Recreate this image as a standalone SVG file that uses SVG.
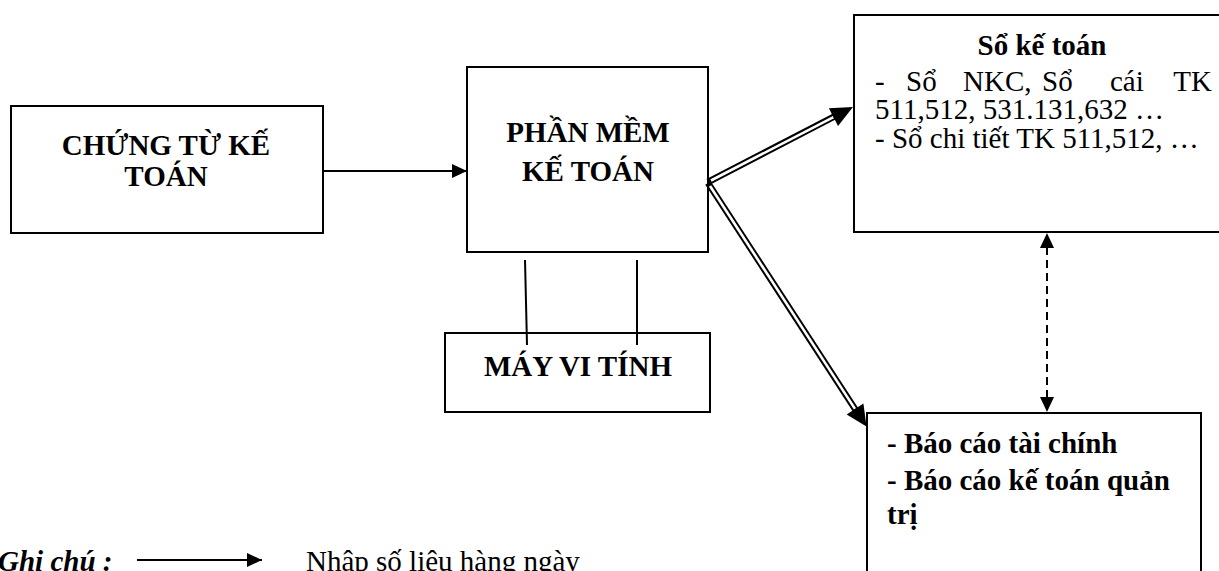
<svg xmlns="http://www.w3.org/2000/svg" width="1219" height="571" viewBox="0 0 1219 571">
<style>
.box{fill:#fff;stroke:#000;stroke-width:2}
.t{font-family:"Liberation Serif","Times New Roman",serif;font-size:29px;fill:#000}
.b{font-weight:bold}
.c{text-anchor:middle}
.ln{stroke:#000;stroke-width:2;fill:none}
.dbl{stroke:#000;stroke-width:6.5;fill:none}
.dblw{stroke:#fff;stroke-width:2.6;fill:none}
.dash{stroke:#000;stroke-width:2;stroke-dasharray:8 5;fill:none}
</style>
<defs>
<marker id="ah" markerUnits="userSpaceOnUse" markerWidth="16" markerHeight="14" refX="15" refY="7" orient="auto">
<path d="M0,0 L15,7 L0,14 Z" fill="#000"/>
</marker>
</defs>
<g id="node-chungtu">
<rect class="box" x="11" y="106" width="312" height="127"/>
<text class="t b c" x="166" y="155">CHỨNG TỪ KẾ</text>
<text class="t b c" x="166" y="186">TOÁN</text>
</g>
<g id="node-phanmem">
<rect class="box" x="467" y="67" width="241" height="185"/>
<text class="t b c" x="588" y="142">PHẦN MỀM</text>
<text class="t b c" x="588" y="181">KẾ TOÁN</text>
</g>
<g id="node-mayvitinh">
<rect class="box" x="445" y="333" width="265" height="79"/>
<text class="t b c" x="578" y="376">MÁY VI TÍNH</text>
</g>
<g id="node-soketoan">
<rect class="box" x="854" y="15" width="370" height="217"/>
<text class="t b c" x="1042" y="55">Sổ kế toán</text>
<text class="t" x="875" y="91">-</text>
<text class="t" x="906" y="91">Sổ</text>
<text class="t" x="963" y="91">NKC,</text>
<text class="t" x="1042" y="91">Sổ</text>
<text class="t" x="1110" y="91">cái</text>
<text class="t" x="1212" y="91" text-anchor="end">TK</text>
<text class="t" x="875" y="119">511,512, 531.131,632 …</text>
<text class="t" x="875" y="148">- Sổ chi tiết TK 511,512, …</text>
</g>
<g id="node-baocao">
<rect class="box" x="867" y="413" width="334" height="180"/>
<text class="t b" x="887" y="453">- Báo cáo tài chính</text>
<text class="t b" x="887" y="490">- Báo cáo kế toán quản</text>
<text class="t b" x="887" y="524">trị</text>
</g>
<g id="connectors">
<line class="ln" x1="323" y1="171" x2="467" y2="171" marker-end="url(#ah)"/>
<line class="ln" x1="525" y1="260" x2="527" y2="345"/>
<line class="ln" x1="637" y1="260" x2="637" y2="345"/>
<line class="dbl" x1="708" y1="182" x2="835" y2="116.2"/>
<line class="dblw" x1="711" y1="180.5" x2="833.5" y2="117.1"/>
<polygon points="853,107 838.05,126 828.87,108.2" fill="#000"/>
<line class="dbl" x1="708" y1="183" x2="856" y2="410.5"/>
<line class="dblw" x1="710" y1="186" x2="855" y2="408.9"/>
<polygon points="866.5,426.5 846.65,414.4 863.4,403.4" fill="#000"/>
<line class="dash" x1="1047" y1="247" x2="1047" y2="399"/>
<polygon points="1047,233 1040,248 1054,248" fill="#000"/>
<polygon points="1047,412 1040,397 1054,397" fill="#000"/>
</g>
<g id="legend">
<text class="t b" x="-2" y="571" font-style="italic">Ghi chú :</text>
<line class="ln" x1="137" y1="560" x2="262" y2="560" marker-end="url(#ah)"/>
<text class="t" x="306" y="571">Nhập số liệu hàng ngày</text>
</g>
</svg>
